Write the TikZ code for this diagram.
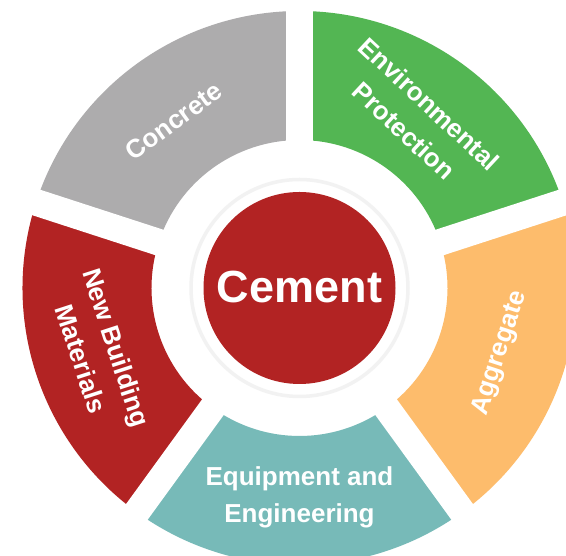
\documentclass[tikz,border=0pt]{standalone}
\usepackage{fontspec}
\setmainfont{Liberation Sans}
\definecolor{cgray}{HTML}{ADACAD}
\definecolor{cgreen}{HTML}{53B653}
\definecolor{corange}{HTML}{FDBC6C}
\definecolor{cteal}{HTML}{77BAB8}
\definecolor{cred}{HTML}{B22323}
\definecolor{cring}{HTML}{F2F2F2}
\tikzset{
  lbl/.style={text=white, font=\fontsize{26}{37}\selectfont\bfseries, align=center, inner sep=0pt},
  gapline/.style={white, line width=26.7pt},
}
\begin{document}
\begin{tikzpicture}[x=1pt,y=1pt]
\clip (0,0) rectangle (566,556);
\fill[white] (0,0) rectangle (566,556);
\begin{scope}[shift={(299.5,268)}]
  \def\Ro{277}\def\Ri{148}
  \fill[cgray]   (90:\Ro) arc[start angle=90, end angle=162, radius=\Ro] -- (162:\Ri) arc[start angle=162, end angle=90, radius=\Ri] -- cycle;
  \fill[cgreen]  (18:\Ro) arc[start angle=18, end angle=90, radius=\Ro] -- (90:\Ri) arc[start angle=90, end angle=18, radius=\Ri] -- cycle;
  \fill[corange] (-54:\Ro) arc[start angle=-54, end angle=18, radius=\Ro] -- (18:\Ri) arc[start angle=18, end angle=-54, radius=\Ri] -- cycle;
  \fill[cteal]   (-126:\Ro) arc[start angle=-126, end angle=-54, radius=\Ro] -- (-54:\Ri) arc[start angle=-54, end angle=-126, radius=\Ri] -- cycle;
  \fill[cred]    (162:\Ro) arc[start angle=162, end angle=234, radius=\Ro] -- (234:\Ri) arc[start angle=234, end angle=162, radius=\Ri] -- cycle;
  \foreach \a in {90,18,-54,-126,162} \draw[gapline] (0,0) -- (\a:300);
  \draw[cring, line width=3.5pt] (0,0) circle[radius=108.5];
  \node[circle, fill=cred, minimum size=192pt, inner sep=0pt] (cement) at (0,0) {};
  \node[text=white, font=\fontsize{45}{50}\selectfont\bfseries, inner sep=0pt] (cementlbl) at (0,1) {Cement};
  \node[lbl, rotate=36] (concrete) at (127:209) {Concrete};
  \node[lbl, rotate=-43] (env) at (55.5:207) {Environmental\\Protection};
  \node[lbl, rotate=72] (agg) at (-18:211) {Aggregate};
  \node[lbl] (equip) at (-90:209) {Equipment and\\Engineering};
  \node[lbl, rotate=-72] (nbm) at (198:211) {New Building\\Materials};
\end{scope}
\end{tikzpicture}
\end{document}
